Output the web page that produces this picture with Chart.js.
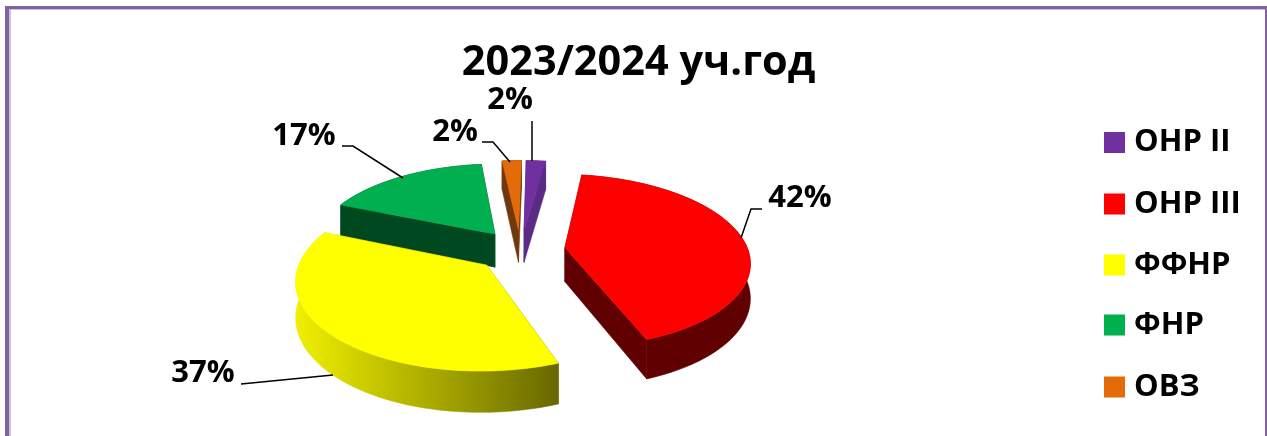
<!DOCTYPE html>
<html>
<head>
<meta charset="utf-8">
<script src="https://cdn.jsdelivr.net/npm/chart.js@4"></script>
<style>
    html, body { margin: 0; padding: 0; background: #fff; overflow: hidden; }
    #frame {
        position: absolute; left: 5px; top: 6px; width: 1256px; height: 440px;
        border-style: solid; border-color: #8064a2; border-width: 3px 2px 0 4px;
        box-shadow: inset 2px 1px 0 #ccc1da;
    }
    #Chart { position: absolute; left: 0; top: 0; }
</style>
</head>
<body>
<div id="frame"></div>
<canvas id="Chart" width="1267" height="436"></canvas>
<script>
const title = '2023/2024 уч.год';
const categories = ['ОНР II', 'ОНР III', 'ФФНР', 'ФНР', 'ОВЗ'];
const percents = [2, 42, 37, 17, 2];

const topColors = ['#7030a0', '#ff0000', '#ffff00', '#00b050', '#e36c09'];
const wallColors = [
    ['#5a2a85', '#5a2a85'], ['#600000', '#600000'], ['#f0f000', '#686800'],
    ['#004820', '#004820'], ['#70380c', '#70380c']
];
const explode = [0.25, 0.245, 0.25, 0.24, 0.25];

// plane -> screen, a small perspective so the near side comes out bigger
const view = { x: 520.5, y: 250, fx: 183, fy: 85, p: 0.15, depth: 34 };

// label text position and its leader line
const labelLayout = [
    { x: 510, y: 100, line: [[532, 121], [532, 161]] },
    { x: 800, y: 198, line: [[762, 209], [751, 209], [741, 238]] },
    { x: 203, y: 373, line: [[241, 384], [333, 375]] },
    { x: 304, y: 136, line: [[342, 146], [353, 146], [403, 178]] },
    { x: 455, y: 132, line: [[482, 142], [493, 142], [510, 162]] }
];
const legendRows = [142.5, 204, 265, 325, 387];
const FONT = '"Open Sans", sans-serif';

function project(px, py, low) {
    const w = 1 - view.p * py;
    return [view.x + view.fx * px / w, view.y + (view.fy * py + (low ? view.depth : 0)) / w];
}

function fillPoly(ctx, pts, fill) {
    ctx.beginPath();
    pts.forEach((p, i) => i ? ctx.lineTo(p[0], p[1]) : ctx.moveTo(p[0], p[1]));
    ctx.closePath();
    ctx.fillStyle = fill;
    ctx.strokeStyle = fill;
    ctx.lineWidth = 0.6;
    ctx.fill();
    ctx.stroke();
}

const pie3d = {
    id: 'pie3d',
    beforeDatasetsDraw(chart) {
        const ctx = chart.ctx;
        const arcs = chart.getDatasetMeta(0).data.map((arc, i) => {
            const mid = (arc.startAngle + arc.endAngle) / 2;
            return { arc, i, mid, ox: Math.cos(mid) * explode[i], oy: Math.sin(mid) * explode[i] };
        });
        // far slices first
        arcs.sort((a, b) => Math.sin(a.mid) - Math.sin(b.mid));
        arcs.forEach(s => {
            const steps = 60, rim = [];
            for (let k = 0; k <= steps; k++) {
                const a = s.arc.startAngle + (s.arc.endAngle - s.arc.startAngle) * k / steps;
                rim.push([s.ox + Math.cos(a), s.oy + Math.sin(a)]);
            }
            const top = rim.map(p => project(p[0], p[1], false));
            const low = rim.map(p => project(p[0], p[1], true));
            const apexTop = project(s.ox, s.oy, false);
            const apexLow = project(s.ox, s.oy, true);

            const xs = top.map(p => p[0]);
            const grad = ctx.createLinearGradient(Math.min(...xs), 0, Math.max(...xs), 0);
            grad.addColorStop(0, wallColors[s.i][0]);
            grad.addColorStop(1, wallColors[s.i][1]);

            fillPoly(ctx, [apexTop, top[0], low[0], apexLow], grad);
            fillPoly(ctx, [apexTop, top[steps], low[steps], apexLow], grad);
            fillPoly(ctx, top.concat(low.slice().reverse()), grad);
            fillPoly(ctx, [apexTop].concat(top), s.arc.options.backgroundColor);
        });
        return false;
    },
    afterDraw(chart) {
        const ctx = chart.ctx;
        ctx.save();
        // percent labels with leaders
        ctx.font = 'bold 31px ' + FONT;
        ctx.textAlign = 'center';
        ctx.textBaseline = 'middle';
        percents.forEach((v, i) => {
            const l = labelLayout[i];
            ctx.fillStyle = '#000';
            ctx.fillText(v + '%', l.x, l.y);
            ctx.beginPath();
            l.line.forEach((p, k) => k ? ctx.lineTo(p[0], p[1]) : ctx.moveTo(p[0], p[1]));
            ctx.strokeStyle = '#000';
            ctx.lineWidth = 1.5;
            ctx.stroke();
        });
        // legend
        ctx.textAlign = 'left';
        categories.forEach((name, i) => {
            const y = legendRows[i];
            ctx.fillStyle = topColors[i];
            ctx.fillRect(1104, y - 10.5, 21, 21);
            ctx.fillStyle = '#000';
            ctx.fillText(name, 1134, y);
        });
        ctx.restore();
    }
};

new Chart(document.getElementById('Chart').getContext('2d'), {
    type: 'pie',
    data: {
        labels: categories,
        datasets: [{ data: percents, backgroundColor: topColors, borderWidth: 0 }]
    },
    options: {
        responsive: false,
        animation: false,
        rotation: 1,
        layout: { padding: { left: 10 } },
        plugins: {
            legend: { display: false },
            tooltip: { enabled: false },
            title: {
                display: true,
                text: title,
                color: '#000',
                font: { family: FONT, size: 41.5, weight: 'bold' },
                padding: { top: 38, bottom: 0 }
            }
        }
    },
    plugins: [pie3d]
});
</script>
</body>
</html>
